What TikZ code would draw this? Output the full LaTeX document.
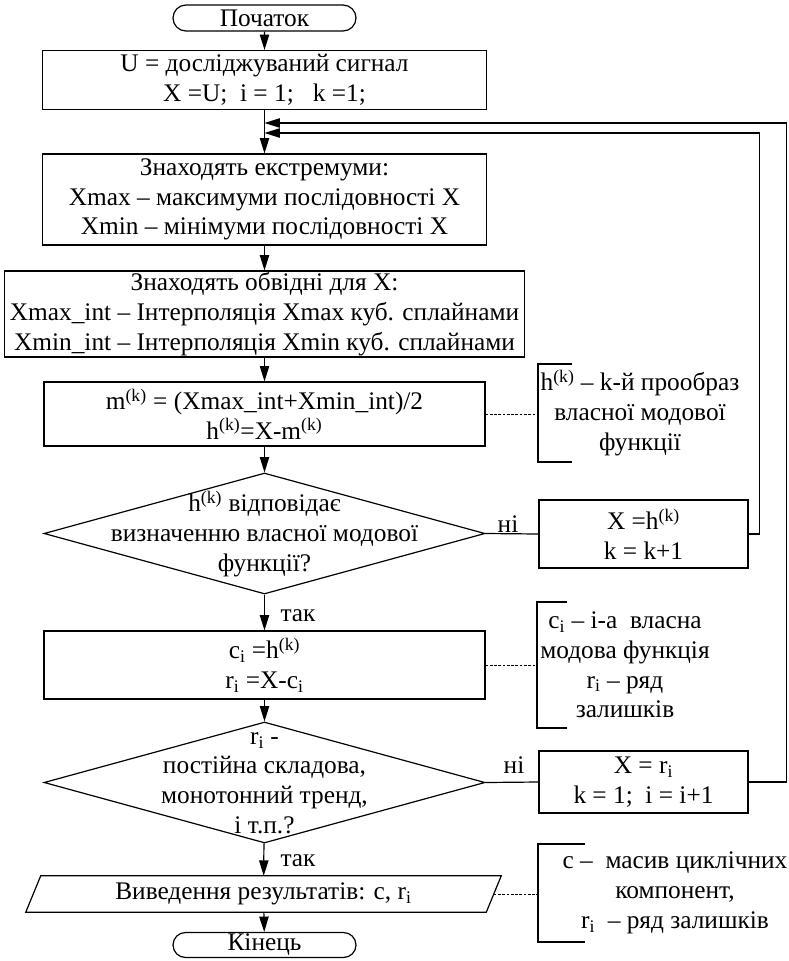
\documentclass[tikz,border=0pt]{standalone}
\usepackage{fontspec}
\setmainfont{Liberation Serif}
\usetikzlibrary{arrows.meta,shapes.geometric,shapes.misc}
\newcommand\pxu{0.75pt}
\begin{document}
\begin{tikzpicture}[x=0.75pt,y=-0.75pt,
  every node/.style={font=\fontsize{19}{22.3}\selectfont},
  box/.style={draw, rectangle, inner sep=0pt, align=center, line width=0.9pt},
  term/.style={draw, rounded rectangle, inner sep=0pt, line width=0.9pt},
  dia/.style={draw, diamond, inner sep=0pt, line width=0.9pt},
  txt/.style={align=center, inner sep=0pt},
  line/.style={line width=0.9pt},
  arr/.style={line, -{Triangle[length=11.5pt,width=7pt]}},
  note/.style={dashed, dash pattern=on 2pt off 1.2pt, line width=0.6pt},
  brk/.style={line width=0.8pt},
  ]
\useasboundingbox (0,0) rectangle (789,961);

% main column
\node[term, minimum width=183*\pxu, minimum height=26*\pxu] (start) at (264.5,18) {Початок};
\node[box, minimum width=444*\pxu, minimum height=59*\pxu] (b1) at (264.5,80) {U = досліджуваний сигнал\\ X =U;\ \ i = 1;\ \ \ k =1;};
\coordinate (j1) at (264.5,123);
\coordinate (j2) at (264.5,133);
\node[box, minimum width=444*\pxu, minimum height=91*\pxu] (b2) at (264.5,199.5) {Знаходять екстремуми:\\ Xmax – максимуми послідовності X\\ Xmin – мінімуми послідовності X};
\node[box, minimum width=520*\pxu, minimum height=86*\pxu] (b3) at (264.5,314) {Знаходять обвідні для X:\\ Xmax\_int – Інтерполяція Xmax куб. сплайнами\\ Xmin\_int – Інтерполяція Xmin куб. сплайнами};
\node[box, minimum width=441*\pxu, minimum height=64*\pxu] (b4) at (264.5,414) {m\textsuperscript{(k)} = (Xmax\_int+Xmin\_int)/2\\ h\textsuperscript{(k)}=X-m\textsuperscript{(k)}};
\node[dia, minimum width=441*\pxu, minimum height=121*\pxu] (d1) at (264.5,533.5) {};
\node[txt] (d1t) at (264.5,534) {h\textsuperscript{(k)} відповідає\\ визначенню власної модової\\ функції?};
\node[box, minimum width=209*\pxu, minimum height=68*\pxu] (b5) at (643.5,534) {X =h\textsuperscript{(k)}\\ k = k+1};
\node[txt] (no1) at (508,524) {ні};
\node[txt] (yes1) at (298,616) {так};
\node[box, minimum width=441*\pxu, minimum height=68*\pxu] (b6) at (264.5,665) {c\textsubscript{i} =h\textsuperscript{(k)}\\ r\textsubscript{i} =X-c\textsubscript{i}};
\node[dia, minimum width=441*\pxu, minimum height=121*\pxu] (d2) at (264.5,782.5) {};
\node[txt] (d2t) at (264.5,783) {r\textsubscript{i} -\\ постійна складова,\\ монотонний тренд,\\ і т.п.?};
\node[box, minimum width=209*\pxu, minimum height=62*\pxu] (b7) at (643.5,782) {X = r\textsubscript{i}\\ k = 1;\ \ i = i+1};
\node[txt] (no2) at (514,765) {ні};
\node[txt] (yes2) at (298,861) {так};
\node[inner sep=0pt, minimum width=460*\pxu, minimum height=36*\pxu] (out) at (263.5,894) {Виведення результатів: c, r\textsubscript{i}};
\draw[line] ([xshift=7.5*\pxu]out.north west) -- ([xshift=7.5*\pxu]out.north east) -- ([xshift=-7.5*\pxu]out.south east) -- ([xshift=-7.5*\pxu]out.south west) -- cycle;
\node[term, minimum width=183*\pxu, minimum height=25*\pxu] (end) at (264.5,945) {Кінець};

% annotations
\node[txt] (a1) at (640,413) {h\textsuperscript{(k)} – k-й прообраз\\ власної модової\\ функції};
\coordinate (a1a) at (572,364); \coordinate (a1b) at (538,364);
\coordinate (a1c) at (538,462); \coordinate (a1d) at (572,462);
\draw[brk] (a1a) -- (a1b) -- (a1c) -- (a1d);
\draw[note] (b4.east) -- (b4.east -| a1b);

\node[txt] (a2) at (625,665) {c\textsubscript{i} – i-а\ \ власна\\ модова функція\\ r\textsubscript{i} – ряд\\ залишків};
\coordinate (a2a) at (567,602); \coordinate (a2b) at (537,602);
\coordinate (a2c) at (537,728); \coordinate (a2d) at (567,728);
\draw[brk] (a2a) -- (a2b) -- (a2c) -- (a2d);
\draw[note] (b6.east) -- (b6.east -| a2b);

\node[txt] (a3) at (675,893) {c –\ \ масив циклічних\\ компонент,\\ r\textsubscript{i}\ \ – ряд залишків};
\coordinate (a3a) at (585,844); \coordinate (a3b) at (538,844);
\coordinate (a3c) at (538,942); \coordinate (a3d) at (585,942);
\draw[brk] (a3a) -- (a3b) -- (a3c) -- (a3d);
\draw[note] (out.east) -- (out.east -| a3b);

% connectors
\draw[arr] (start) -- (b1);
\draw[arr] (b1) -- (b2);
\draw[arr] (b2) -- (b3);
\draw[arr] (b3) -- (b4);
\draw[arr] (b4) -- (d1);
\draw[arr] (d1) -- (b6);
\draw[arr] (b6) -- (d2);
\draw[arr] (d2) -- (out);
\draw[arr] (out) -- (end);
\draw[line] (d1.east) -- (b5.west);
\draw[line] (d2.east) -- (b7.west);
\draw[arr] (b5.east) -- ++(11,0) |- (j2);
\draw[arr] (b7.east) -- ++(38,0) |- (j1);
\end{tikzpicture}
\end{document}
